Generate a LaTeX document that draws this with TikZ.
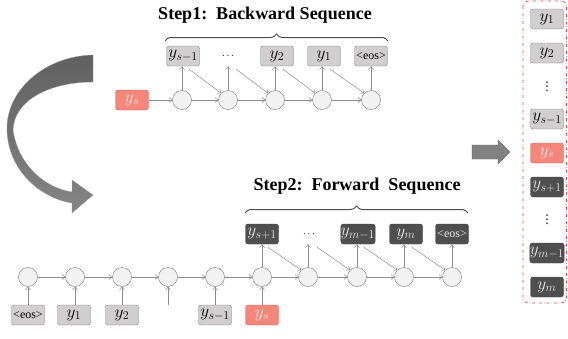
\documentclass[tikz,border=0pt]{standalone}
\usepackage{fontspec}
\setmainfont{Liberation Serif}
\newfontfamily\symfont{DejaVu Sans}
\usetikzlibrary{positioning, arrows.meta, decorations.pathreplacing}
\definecolor{tokgrey}{HTML}{D0CECE}
\definecolor{tokred}{HTML}{F4877A}
\definecolor{tokdark}{HTML}{4F4F4F}
\definecolor{linegrey}{HTML}{8C8C8C}
\definecolor{panelred}{HTML}{E0474C}

\begin{document}
\begin{tikzpicture}[x=1pt, y=-1pt, >={Straight Barb[length=3pt, width=5pt]},
    cell/.style={circle, draw=black!55, fill=black!5, minimum size=19pt, inner sep=0pt},
    tok/.style={rectangle, rounded corners=2.5pt, minimum width=33pt, minimum height=20pt, inner sep=0pt, font=\LARGE},
    greytok/.style={tok, draw=black!50, fill=tokgrey},
    redtok/.style={tok, draw=tokred!80!black, fill=tokred, text=red!8},
    darktok/.style={tok, draw=black!75, fill=tokdark, text=black!8},
    gap/.style={minimum width=33pt, minimum height=20pt, inner sep=0pt, font=\normalsize},
    eos/.style={font=\fontsize{12}{13}\selectfont},
    vdot/.style={font=\symfont\fontsize{12}{14}\selectfont},
    flow/.style={->, draw=linegrey, line width=0.5pt},
    title/.style={font=\fontsize{18}{21}\selectfont\bfseries},
    curly/.style={decorate, decoration={brace, amplitude=7pt}, draw=black!70, line width=1pt}]
    \useasboundingbox (0,0) rectangle (568,338);

    % step 1: backward sequence
    \node [title] (title1) at (265,15) {Step1:\ \ Backward Sequence};
    \draw [curly] (165,41) -- (388,41);

    \node [redtok] (bys) at (132,100) {$y_s$};
    \node [cell] (b1) at (182,100) {};
    \node [cell] (b2) at (228,100) {};
    \node [cell] (b3) at (275,100) {};
    \node [cell] (b4) at (322,100) {};
    \node [cell] (b5) at (371,100) {};

    \node [greytok] (bo1) at (183,56) {$y_{s-1}$};
    \node [gap] (bo2) at (228,56) {$\cdots$};
    \node [greytok] (bo3) at (277,56) {$y_2$};
    \node [greytok] (bo4) at (324,56) {$y_1$};
    \node [greytok, eos] (bo5) at (371,56) {<eos>};

    \draw[flow] (bys) -- (b1);
    \draw[flow] (b1) -- (b2);
    \draw[flow] (b2) -- (b3);
    \draw[flow] (b3) -- (b4);
    \draw[flow] (b4) -- (b5);

    \draw[flow] (b1) -- (b1 |- bo1.south);
    \draw[flow] (b2) -- (b2 |- bo2.south);
    \draw[flow] (b3) -- (b3 |- bo3.south);
    \draw[flow] (b4) -- (b4 |- bo4.south);
    \draw[flow] (b5) -- (b5 |- bo5.south);

    \draw[flow] ([xshift=6pt, yshift=-3pt]bo1.south) -- (b2.north west);
    \draw[flow] ([xshift=8pt, yshift=-3pt]bo2.south) -- (b3.north west);
    \draw[flow] ([xshift=6pt, yshift=-3pt]bo3.south) -- (b4.north west);
    \draw[flow] ([xshift=6pt, yshift=-3pt]bo4.south) -- (b5.north west);

    % step 2: forward sequence
    \node [title] (title2) at (357,186) {Step2:\ \ Forward\ \ Sequence};
    \draw [curly] (245,213) -- (468,213);

    \node [cell] (f1) at (28,277) {};
    \node [cell] (f2) at (75,277) {};
    \node [cell] (f3) at (122,277) {};
    \node [cell] (f4) at (168,277) {};
    \node [cell] (f5) at (215,277) {};
    \node [cell] (f6) at (262,277) {};
    \node [cell] (f7) at (308,277) {};
    \node [cell] (f8) at (357,277) {};
    \node [cell] (f9) at (404,277) {};
    \node [cell] (f10) at (452,277) {};

    \node [greytok, eos] (fi1) at (28,315) {<eos>};
    \node [greytok] (fi2) at (74,315) {$y_1$};
    \node [greytok] (fi3) at (122,315) {$y_2$};
    \coordinate (fi4) at (168,305);
    \node [greytok] (fi5) at (215,315) {$y_{s-1}$};
    \node [redtok] (fi6) at (262,315) {$y_s$};

    \node [darktok] (fo1) at (262,234) {$y_{s+1}$};
    \node [gap] (fo2) at (309,234) {$\cdots$};
    \node [darktok] (fo3) at (358,234) {$y_{m-1}$};
    \node [darktok] (fo4) at (406,234) {$y_m$};
    \node [darktok, eos] (fo5) at (452,234) {<eos>};

    \draw[flow] (f1) -- (f2);
    \draw[flow] (f2) -- (f3);
    \draw[flow] (f3) -- (f4);
    \draw[flow] (f4) -- (f5);
    \draw[flow] (f5) -- (f6);
    \draw[flow] (f6) -- (f7);
    \draw[flow] (f7) -- (f8);
    \draw[flow] (f8) -- (f9);
    \draw[flow] (f9) -- (f10);

    \draw[flow] (fi1) -- (f1);
    \draw[flow] (fi2.north -| f2) -- (f2);
    \draw[flow] (fi3) -- (f3);
    \draw[flow] (fi4) -- (f4);
    \draw[flow] (fi5) -- (f5);
    \draw[flow] (fi6) -- (f6);

    \draw[flow] (f6) -- (f6 |- fo1.south);
    \draw[flow] (f7) -- (f7 |- fo2.south);
    \draw[flow] (f8) -- (f8 |- fo3.south);
    \draw[flow] (f9) -- (f9 |- fo4.south);
    \draw[flow] (f10) -- (f10 |- fo5.south);

    \draw[flow] ([xshift=6pt, yshift=-3pt]fo1.south) -- (f7.north west);
    \draw[flow] ([xshift=8pt, yshift=-3pt]fo2.south) -- (f8.north west);
    \draw[flow] ([xshift=6pt, yshift=-3pt]fo3.south) -- (f9.north west);
    \draw[flow] ([xshift=6pt, yshift=-3pt]fo4.south) -- (f10.north west);

    % curved arrow from step 1 to step 2
    \shade [top color=black!62, bottom color=black!48, draw=black!40, line width=0.3pt]
        (93,55) .. controls (45,56) and (6,90) .. (7,130)
        .. controls (8,170) and (40,198) .. (72,203)
        -- (72,213) -- (93,195) -- (72,180) -- (72,192)
        .. controls (45,188) and (18,165) .. (13,130)
        .. controls (14,100) and (50,82) .. (93,82) -- cycle;

    % arrow to the merged sequence
    \fill [black!50, draw=black!65, line width=0.3pt]
        (472,145) -- (498,145) -- (498,140) -- (510,152) -- (498,164) -- (498,159) -- (472,159) -- cycle;

    % merged sequence
    \draw [panelred, dash dot, rounded corners=5pt, line width=0.8pt] (523,1) rectangle (566.5,303);
    \node [greytok] (p1) at (547,19) {$y_1$};
    \node [greytok] (p2) at (547,53) {$y_2$};
    \node [vdot] (p3) at (547,87) {⋮};
    \node [greytok] (p4) at (547,119) {$y_{s-1}$};
    \node [redtok] (p5) at (547,153) {$y_s$};
    \node [darktok] (p6) at (547,187) {$y_{s+1}$};
    \node [vdot] (p7) at (547,220) {⋮};
    \node [darktok] (p8) at (547,253) {$y_{m-1}$};
    \node [darktok] (p9) at (547,287) {$y_m$};
\end{tikzpicture}
\end{document}
